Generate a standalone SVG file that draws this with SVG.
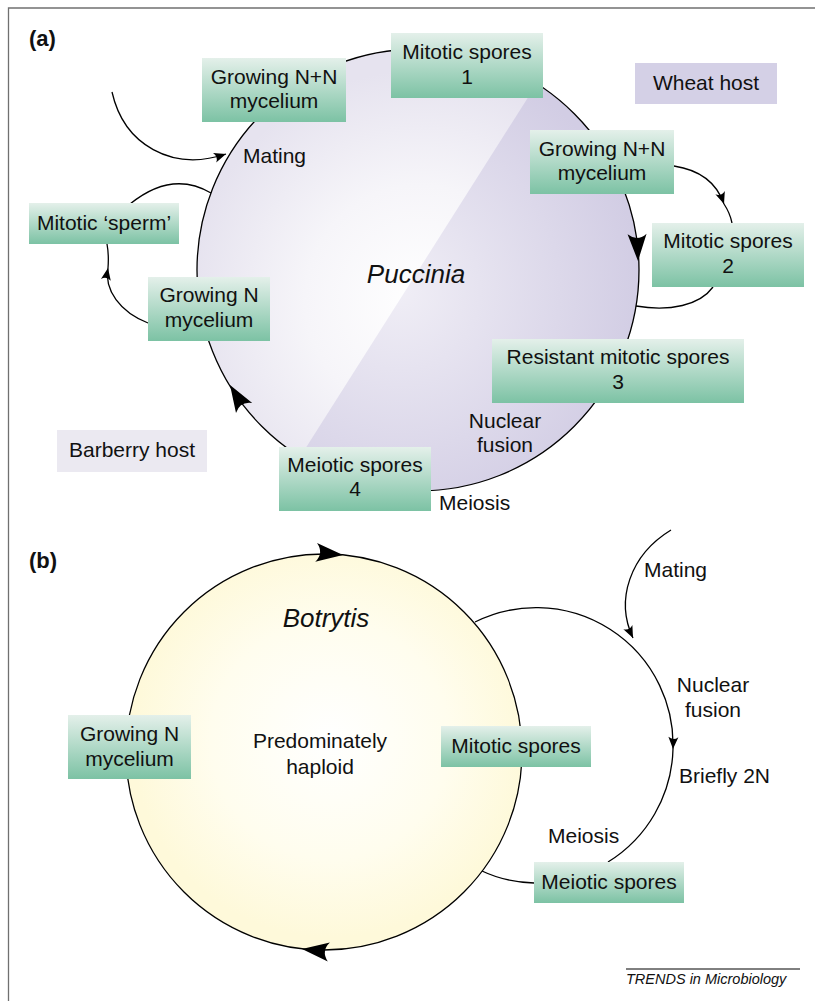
<svg xmlns="http://www.w3.org/2000/svg" xmlns:xlink="http://www.w3.org/1999/xlink" width="815" height="1001" viewBox="0 0 815 1001">
<style>
text{font-family:"Liberation Sans",Arial,sans-serif;font-size:21px;fill:#111}
.m{text-anchor:middle}
.it{font-style:italic;font-size:26px}
.hd{font-weight:bold;font-size:22px}
.box{fill:url(#green)}
.ln{fill:none;stroke:#000;stroke-width:1.3}
.ah{fill:#000}
</style>
<defs>
<linearGradient id="green" x1="0" y1="0" x2="0" y2="1">
<stop offset="0" stop-color="#e4f0ea"/>
<stop offset="1" stop-color="#7cc2a4"/>
</linearGradient>
<radialGradient id="lavL" gradientUnits="userSpaceOnUse" cx="420" cy="300" r="230">
<stop offset="0" stop-color="#ffffff"/>
<stop offset="0.5" stop-color="#f6f5f9"/>
<stop offset="1" stop-color="#e6e3ef"/>
</radialGradient>
<radialGradient id="lavD" gradientUnits="userSpaceOnUse" cx="400" cy="290" r="240">
<stop offset="0" stop-color="#f0eef6"/>
<stop offset="1" stop-color="#d2cde4"/>
</radialGradient>
<radialGradient id="yel" gradientUnits="userSpaceOnUse" cx="330" cy="740" r="198">
<stop offset="0" stop-color="#ffffff"/>
<stop offset="0.6" stop-color="#fffdee"/>
<stop offset="1" stop-color="#fef9da"/>
</radialGradient>
<clipPath id="clipA"><circle cx="418" cy="270" r="221"/></clipPath>
<path id="big" d="M0,0 L-27,-9.5 Q-19,0 -27,9.5 Z"/>
<marker id="smEnd" markerUnits="userSpaceOnUse" markerWidth="14" markerHeight="12" viewBox="-13 -6 14 12" refX="0" refY="0" orient="auto"><path d="M0,0 L-12,-5 Q-8,0 -12,5 Z" fill="#000"/></marker>
</defs>

<g id="frame" fill="none" stroke="#707070" stroke-width="1.3">
<path d="M8.5,1001 V8 H815"/>
</g>

<g id="cycleA">
<circle cx="418" cy="270" r="221" fill="url(#lavL)"/>
<polygon points="638,-76 196,621 700,621 700,-76" fill="url(#lavD)" clip-path="url(#clipA)"/>
</g>
<g id="cycleB">
<circle cx="324" cy="752" r="198" fill="url(#yel)"/>
</g>

<g id="connectors">
<circle class="ln" cx="418" cy="270" r="221"/>
<use href="#big" class="ah" transform="translate(638,261) rotate(88)"/>
<use href="#big" class="ah" transform="translate(230,385) rotate(238.5)"/>
<path class="ln" d="M112,92 C124,145 172,172 226,154" marker-end="url(#smEnd)"/>
<path class="ln" d="M211,193 Q172,170 130,204"/>
<path class="ln" d="M148,323 C120,312 104,290 108,268" marker-end="url(#smEnd)"/>
<path class="ln" d="M108,268 Q109,255 107,244"/>
<path class="ln" d="M674,166 Q713,172 724,204" marker-end="url(#smEnd)"/>
<path class="ln" d="M724,204 Q730,213 732,223"/>
<path class="ln" d="M713,287 C700,305 670,312 636,306"/>

<circle class="ln" cx="324" cy="752" r="198"/>
<use href="#big" class="ah" transform="translate(343,555) rotate(5.5)"/>
<use href="#big" class="ah" transform="translate(302,949) rotate(186.4)"/>
<path class="ln" d="M475,622 A137,137 0 0 1 673,749" marker-end="url(#smEnd)"/>
<path class="ln" d="M673,749 A137,137 0 0 1 608,862"/>
<path class="ln" d="M482,871 Q505,882 534,883"/>
<path class="ln" d="M671,530 C630,555 615,600 633,638" marker-end="url(#smEnd)"/>
<line x1="626" y1="969" x2="800" y2="969" stroke="#000" stroke-width="1"/>
</g>

<g id="a-label"><text class="hd" x="29" y="46">(a)</text></g>
<g id="puccinia"><text class="m it" x="416" y="283">Puccinia</text></g>

<g id="a-growNN1"><rect class="box" x="202" y="58" width="144" height="64"/><text class="m" x="274" y="84">Growing N+N</text><text class="m" x="274" y="108">mycelium</text></g>
<g id="a-mito1"><rect class="box" x="391" y="33" width="152" height="65"/><text class="m" x="467" y="59">Mitotic spores</text><text class="m" x="467" y="84">1</text></g>
<g id="a-wheat"><rect x="635" y="63" width="142" height="41" fill="#d4d0e6"/><text class="m" x="706" y="90">Wheat host</text></g>
<g id="a-growNN2"><rect class="box" x="530" y="130" width="144" height="64"/><text class="m" x="602" y="156">Growing N+N</text><text class="m" x="602" y="180">mycelium</text></g>
<g id="a-mito2"><rect class="box" x="652" y="223" width="152" height="64"/><text class="m" x="728" y="248">Mitotic spores</text><text class="m" x="728" y="273">2</text></g>
<g id="a-resist"><rect class="box" x="492" y="339" width="252" height="64"/><text class="m" x="618" y="364">Resistant mitotic spores</text><text class="m" x="618" y="389">3</text></g>
<g id="a-meio4"><rect class="box" x="279" y="447" width="152" height="64"/><text class="m" x="355" y="472">Meiotic spores</text><text class="m" x="355" y="496">4</text></g>
<g id="a-barberry"><rect x="57" y="430" width="150" height="42" fill="#ebe9f1"/><text class="m" x="132" y="457">Barberry host</text></g>
<g id="a-growN"><rect class="box" x="148" y="277" width="122" height="64"/><text class="m" x="209" y="302">Growing N</text><text class="m" x="209" y="327">mycelium</text></g>
<g id="a-sperm"><rect class="box" x="29" y="203" width="150" height="41"/><text class="m" x="104" y="230">Mitotic ‘sperm’</text></g>
<g id="a-labels">
<text x="243" y="163">Mating</text>
<text class="m" x="505" y="428">Nuclear</text>
<text class="m" x="505" y="452">fusion</text>
<text x="439" y="510">Meiosis</text>
</g>

<g id="b-label"><text class="hd" x="29" y="568">(b)</text></g>
<g id="botrytis"><text class="m it" x="326" y="627">Botrytis</text><text class="m" x="320" y="748">Predominately</text><text class="m" x="320" y="774">haploid</text></g>
<g id="b-growN"><rect class="box" x="68" y="715" width="123" height="64"/><text class="m" x="129.5" y="741">Growing N</text><text class="m" x="129.5" y="766">mycelium</text></g>
<g id="b-mito"><rect class="box" x="441" y="726" width="150" height="41"/><text class="m" x="516" y="753">Mitotic spores</text></g>
<g id="b-meio"><rect class="box" x="534" y="862" width="150" height="41"/><text class="m" x="609" y="889">Meiotic spores</text></g>
<g id="b-labels">
<text x="644" y="577">Mating</text>
<text class="m" x="713" y="692">Nuclear</text>
<text class="m" x="713" y="717">fusion</text>
<text x="679" y="783">Briefly 2N</text>
<text x="548" y="843">Meiosis</text>
</g>
<g id="credit"><text x="626" y="984" style="font-style:italic;font-size:14.5px">TRENDS in Microbiology</text></g>
</svg>
